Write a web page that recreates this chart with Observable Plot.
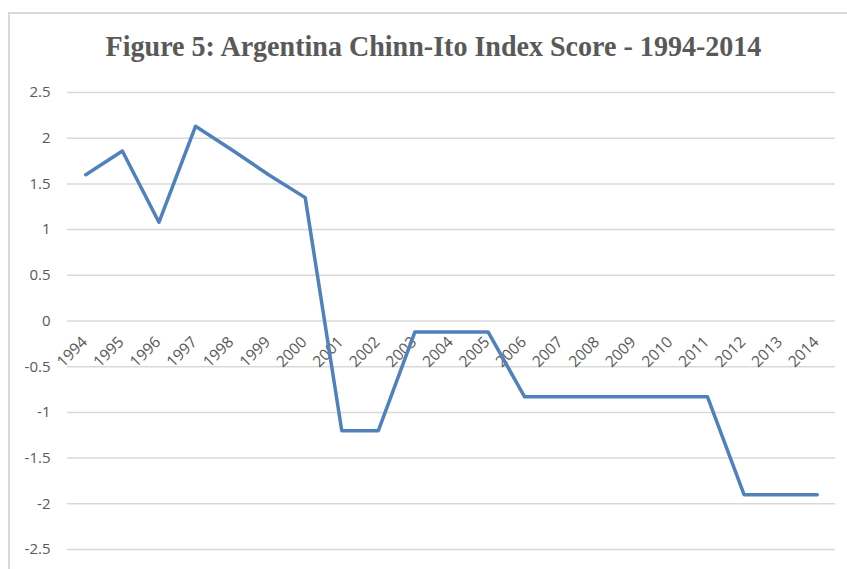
<!DOCTYPE html>
<html><head><meta charset="utf-8">
<script src="https://cdn.jsdelivr.net/npm/d3@7"></script>
<script src="https://cdn.jsdelivr.net/npm/@observablehq/plot@0.6"></script>
<style>
body{margin:0;background:#fff;}
#wrap{position:relative;width:847px;height:569px;overflow:hidden;}
#frame{position:absolute;left:8px;top:12px;width:900px;height:600px;border-left:2px solid #d9d9d9;border-top:2px solid #d9d9d9;}
#title{position:absolute;left:0;width:867px;top:31px;text-align:center;font-family:"Liberation Serif","Times New Roman",serif;font-weight:bold;font-size:30px;line-height:30px;color:#595959;white-space:nowrap;transform:scaleX(0.935);transform-origin:433.5px 0;}
#chart{position:absolute;left:0;top:70px;}
</style></head>
<body>
<div id="wrap">
<div id="frame"></div>
<div id="title">Figure 5: Argentina Chinn-Ito Index Score - 1994-2014</div>
<div id="chart"></div>
</div>
<script>
const years = ["1994","1995","1996","1997","1998","1999","2000","2001","2002","2003","2004","2005","2006","2007","2008","2009","2010","2011","2012","2013","2014"];
const values = [1.60, 1.86, 1.08, 2.13, 1.87, 1.60, 1.35, -1.20, -1.20, -0.12, -0.12, -0.12, -0.83, -0.83, -0.83, -0.83, -0.83, -0.83, -1.90, -1.90, -1.90];
const yTicks = [-2.5, -2, -1.5, -1, -0.5, 0, 0.5, 1, 1.5, 2, 2.5];

const data = years.map((y, i) => ({year: y, value: values[i]}));

const chart = Plot.plot({
  width: 847,
  height: 499,
  marginLeft: 67,
  marginRight: 12,
  marginTop: 22,
  marginBottom: 20,
  style: {fontFamily: "'Open Sans', sans-serif", fontSize: "15px", color: "#595959", background: "transparent", overflow: "visible"},
  x: {type: "point", domain: years, padding: 0.5, round: false, axis: null},
  y: {domain: [-2.5, 2.5], axis: null},
  marks: [
    Plot.ruleY(yTicks, {stroke: "#d9d9d9", strokeWidth: 1.5}),
    Plot.axisY(yTicks, {tickSize: 0, tickPadding: 17, label: null, tickFormat: d => String(d), fill: "#595959", fontSize: 15}),
    Plot.text(years, {x: d => d, y: d => 0, text: d => d, rotate: -45, textAnchor: "end", dx: -1, dy: 18.5, fill: "#595959", fontSize: 15.5}),
    Plot.line(data, {x: "year", y: "value", stroke: "#4F81BD", strokeWidth: 3.5})
  ]
});
document.getElementById("chart").appendChild(chart);
</script>
</body></html>
